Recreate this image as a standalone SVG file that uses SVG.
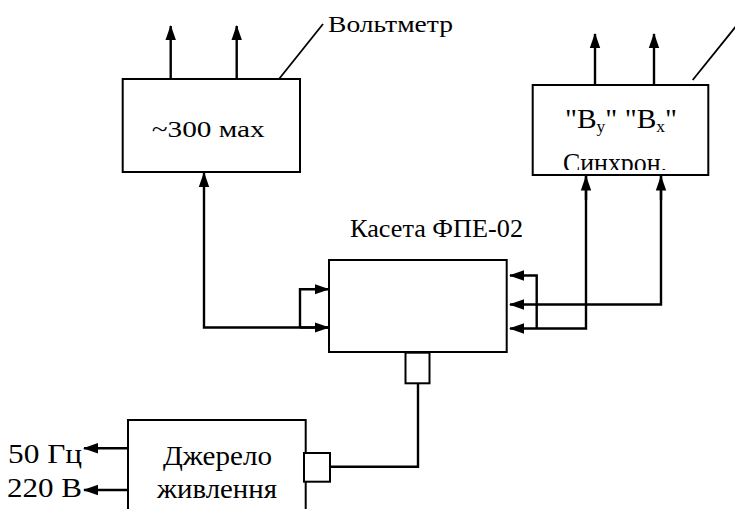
<svg xmlns="http://www.w3.org/2000/svg" width="735" height="509" viewBox="0 0 735 509">
<style>
.box{fill:#fff;stroke:#000;stroke-width:2}
.ln{fill:none;stroke:#000;stroke-width:2.4}
.thin{fill:none;stroke:#000;stroke-width:1.8}
text{font-family:'Liberation Serif','Times New Roman',serif;fill:#000}
</style>
<defs>
<marker id="ah" markerUnits="userSpaceOnUse" markerWidth="16" markerHeight="12" refX="14" refY="6" orient="auto">
<path d="M0,0.8 L15,6 L0,11.2 z" fill="#000"/>
</marker>
<clipPath id="osc-clip"><rect x="532" y="140" width="176" height="30"/></clipPath>
</defs>
<rect width="735" height="509" fill="#fff"/>

<g id="connectors">
<line class="ln" x1="170.7" y1="79" x2="170.7" y2="26" marker-end="url(#ah)"/>
<line class="ln" x1="236.7" y1="79" x2="236.7" y2="26" marker-end="url(#ah)"/>
<line class="ln" x1="595" y1="85" x2="595" y2="34" marker-end="url(#ah)"/>
<line class="ln" x1="654" y1="85" x2="654" y2="34" marker-end="url(#ah)"/>
<line class="thin" x1="279" y1="79" x2="323" y2="24"/>
<line class="thin" x1="692.7" y1="80" x2="737" y2="25"/>
<polyline class="ln" points="329,327.5 204,327.5 204,173" marker-end="url(#ah)"/>
<polyline class="ln" points="300,327.5 300,289.3 328.5,289.3" marker-end="url(#ah)"/>
<line class="ln" x1="300" y1="327.5" x2="328.5" y2="327.5" marker-end="url(#ah)"/>
<polyline class="ln" points="661,176 661,304.5 510,304.5" marker-end="url(#ah)"/>
<polyline class="ln" points="586,176 586,328.5 510,328.5" marker-end="url(#ah)"/>
<polyline class="ln" points="536.7,328.5 536.7,275.5 510,275.5" marker-end="url(#ah)"/>
<line class="ln" x1="586" y1="200" x2="586" y2="176.5" marker-end="url(#ah)"/>
<line class="ln" x1="661" y1="200" x2="661" y2="176.5" marker-end="url(#ah)"/>
<polyline class="ln" points="418,383 418,466.7 330,466.7"/>
<line class="ln" x1="128" y1="448.3" x2="84" y2="448.3" marker-end="url(#ah)"/>
<line class="ln" x1="128" y1="490" x2="84" y2="490" marker-end="url(#ah)"/>
</g>

<g id="voltmeter">
<rect class="box" x="122.7" y="79" width="177.3" height="93"/>
<text x="151.7" y="137" font-size="24" textLength="113" lengthAdjust="spacingAndGlyphs">~300 мах</text>
<text x="328" y="32" font-size="23" textLength="125" lengthAdjust="spacingAndGlyphs">Вольтметр</text>
</g>

<g id="oscilloscope">
<rect class="box" x="532.7" y="85" width="175.6" height="90"/>
<text x="565" y="128" font-size="27" textLength="112" lengthAdjust="spacingAndGlyphs">"B<tspan font-size="16" dy="4">y</tspan><tspan dy="-4">" "B</tspan><tspan font-size="16" dy="4">x</tspan><tspan dy="-4">"</tspan></text>
<text x="563" y="172" font-size="27" clip-path="url(#osc-clip)" textLength="104" lengthAdjust="spacingAndGlyphs">Синхрон.</text>
</g>

<g id="cassette">
<rect class="box" x="329" y="260" width="177.7" height="92"/>
<text x="350" y="237" font-size="24.5" textLength="173" lengthAdjust="spacingAndGlyphs">Касета ФПЕ-02</text>
<rect class="box" x="405.5" y="352.7" width="24" height="30.6" stroke-width="2.5"/>
</g>

<g id="power">
<rect class="box" x="128" y="420" width="177.7" height="100"/>
<rect class="box" x="304" y="453" width="26" height="28.7" stroke-width="2.5"/>
<text x="163" y="465" font-size="28" textLength="109" lengthAdjust="spacingAndGlyphs">Джерело</text>
<text x="157" y="498" font-size="28" textLength="120" lengthAdjust="spacingAndGlyphs">живлення</text>
<text x="8" y="463" font-size="28" textLength="74" lengthAdjust="spacingAndGlyphs">50 Гц</text>
<text x="7" y="497" font-size="28" textLength="75" lengthAdjust="spacingAndGlyphs">220 В</text>
</g>
</svg>
